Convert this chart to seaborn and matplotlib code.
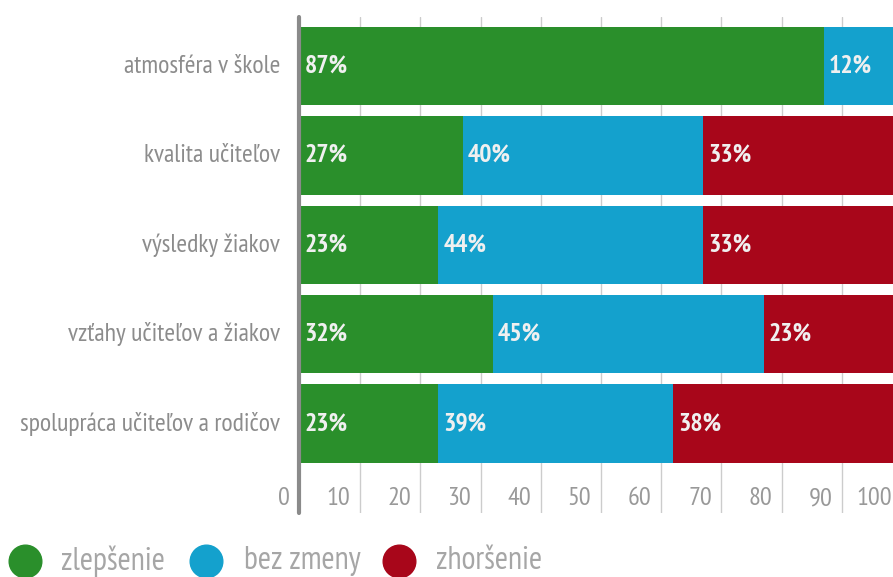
import matplotlib
matplotlib.use("Agg")
import matplotlib.pyplot as plt
import seaborn as sns
import pandas as pd
import numpy as np
from matplotlib.lines import Line2D

categories = ["atmosféra v škole", "kvalita učiteľov", "výsledky žiakov",
              "vzťahy učiteľov a žiakov", "spolupráca učiteľov a rodičov"]
zlepsenie = [87, 27, 23, 32, 23]
bez_zmeny = [12, 40, 44, 45, 39]
zhorsenie = [1, 33, 33, 23, 38]
series_names = ["zlepšenie", "bez zmeny", "zhoršenie"]
colors = ["#2a8f2b", "#14a1cd", "#a8061a"]
tick_values = [0, 10, 20, 30, 40, 50, 60, 70, 80, 90, 100]

sns.set_style("white")
plt.rcParams["font.family"] = ["PT Sans Narrow", "DejaVu Sans"]

W, H = 893, 577
fig = plt.figure(figsize=(W / 100, H / 100), dpi=100)
ax_left, ax_right = 300, 893
ax_top, ax_bottom = 17, 513
ax = fig.add_axes([ax_left / W, 1 - ax_bottom / H, (ax_right - ax_left) / W, (ax_bottom - ax_top) / H])

s1 = np.array(zlepsenie)
s2 = s1 + np.array(bez_zmeny)
s3 = s2 + np.array(zhorsenie)
df = pd.DataFrame({"cat": categories, "c1": s1, "c2": s2, "c3": s3})

bw = 0.876
for col, c in zip(["c3", "c2", "c1"], colors[::-1]):
    sns.barplot(data=df, y="cat", x=col, orient="h", color=c, width=bw,
                saturation=1, linewidth=0, edgecolor="none", ax=ax, errorbar=None)

xmax = (ax_right - ax_left) / 6.02
ax.set_xlim(0, xmax)
ax.set_ylim(5.0, -0.55)

for t in tick_values[1:]:
    ax.axvline(t, color="#cccccc", linewidth=1, zorder=0)
ax.axvline(-0.1, color="#8a8a8a", linewidth=3, zorder=5, clip_on=False)
ax.set_axisbelow(True)

for sp in ax.spines.values():
    sp.set_visible(False)
ax.set_xticks([])
ax.set_yticks([])
ax.set_xlabel("")
ax.set_ylabel("")

# tick labels, right-aligned just left of their grid line
for t in tick_values:
    ax.text(t - 1.6, 4.84, str(t), ha="right", va="center",
            fontsize=19, color="#999999", clip_on=False)

# category labels
for i, cat in enumerate(categories):
    ax.text(-3.3, i, cat, ha="right", va="center", fontsize=18.5,
            color="#8c8c8c", clip_on=False)

# value labels
lefts = [np.zeros(5), s1, s2]
vals = [zlepsenie, bez_zmeny, zhorsenie]
for left, v in zip(lefts, vals):
    for i in range(len(categories)):
        if left[i] + 0.8 < xmax - 2:
            ax.text(left[i] + 0.8, i, f"{v[i]}%", ha="left", va="center",
                    fontsize=18.5, fontweight="bold", color="#f0f0f0", clip_on=True)

# legend, drawn manually
leg_y = 1 - 561 / H
circle_x = [25, 206, 399]
text_x = [61, 244, 436]
for cx, tx, c, name in zip(circle_x, text_x, colors, series_names):
    fig.add_artist(Line2D([cx / W], [leg_y], marker="o", markersize=23.5, linestyle="none",
                          markerfacecolor=c, markeredgecolor=c, transform=fig.transFigure))
    fig.text(tx / W, leg_y, name, ha="left", va="center", fontsize=23, color="#a6a6a6")

fig.savefig("out.png", dpi=100)
